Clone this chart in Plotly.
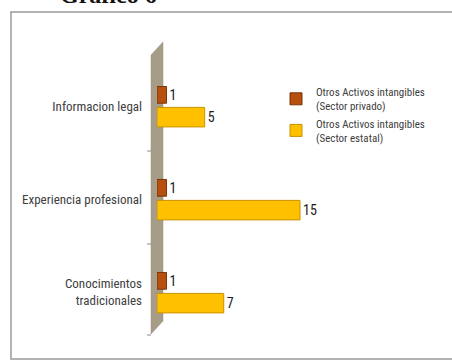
import plotly.graph_objects as go

categories = ["Informacion legal", "Experiencia profesional", "Conocimientos<br>tradicionales"]
privado = [1, 1, 1]
estatal = [5, 15, 7]
series_names = ["Otros Activos intangibles<br>(Sector privado)", "Otros Activos intangibles<br>(Sector estatal)"]

W, H = 452, 361
def px(x):
    return x / W
def py(y):
    return 1 - y / H

font_narrow = "Roboto Condensed, Liberation Sans Narrow, Roboto, sans-serif"

fig = go.Figure()
fig.add_trace(go.Bar(
    y=categories, x=privado, orientation="h", name=series_names[0],
    marker=dict(color="#B5500F", line=dict(color="#7A3508", width=1)),
    width=0.18, offset=-0.21,
    text=[str(v) for v in privado], textposition="outside",
    textfont=dict(family=font_narrow, size=14, color="#1a1a1a"),
    cliponaxis=False,
))
fig.add_trace(go.Bar(
    y=categories, x=estatal, orientation="h", name=series_names[1],
    marker=dict(color="#FFC000", line=dict(color="#C89200", width=1)),
    width=0.21, offset=0.015,
    text=[str(v) for v in estatal], textposition="outside",
    textfont=dict(family=font_narrow, size=14, color="#1a1a1a"),
    cliponaxis=False,
))

shapes = [
    # outer frame
    dict(type="rect", xref="paper", yref="paper", x0=px(11), x1=px(460), y0=py(359), y1=py(12),
         line=dict(color="#9a9a9a", width=1.5), fillcolor="rgba(0,0,0,0)", layer="below"),
    # 3D wall
    dict(type="path", xref="paper", yref="paper",
         path=f"M {px(151)} {py(55)} L {px(163)} {py(42)} L {px(163)} {py(321)} L {px(151)} {py(334)} Z",
         fillcolor="#A69C88", line=dict(color="#9A907C", width=0.5), layer="below"),
]
for yy in [151, 244, 335]:
    shapes.append(dict(type="line", xref="paper", yref="paper", x0=px(147), x1=px(151), y0=py(yy), y1=py(yy),
                       line=dict(color="#8a8a8a", width=1)))

fig.update_layout(
    width=W, height=H,
    margin=dict(l=0, r=0, t=0, b=0),
    paper_bgcolor="white", plot_bgcolor="rgba(0,0,0,0)",
    barmode="group",
    showlegend=True,
    legend=dict(x=px(276), y=py(78), xanchor="left", yanchor="top",
                font=dict(family=font_narrow, size=11, color="#404040"),
                itemwidth=30, tracegroupgap=4, bgcolor="rgba(0,0,0,0)"),
    xaxis=dict(domain=[px(157), px(443)], range=[0, 30], visible=False),
    yaxis=dict(domain=[py(338.5), py(59.5)], categoryorder="array", categoryarray=categories,
               autorange="reversed", showline=False, showgrid=False, zeroline=False,
               ticks="", ticklabelstandoff=14,
               tickfont=dict(family=font_narrow, size=13, color="#404040")),
    shapes=shapes,
    annotations=[dict(text="<b>Gráfico 6</b>", xref="paper", yref="paper", x=px(58), y=py(10),
                      xanchor="left", yanchor="bottom", showarrow=False,
                      font=dict(family="Liberation Serif, Times New Roman, serif", size=24, color="#111111"))],
)

fig.write_html("out.html")
